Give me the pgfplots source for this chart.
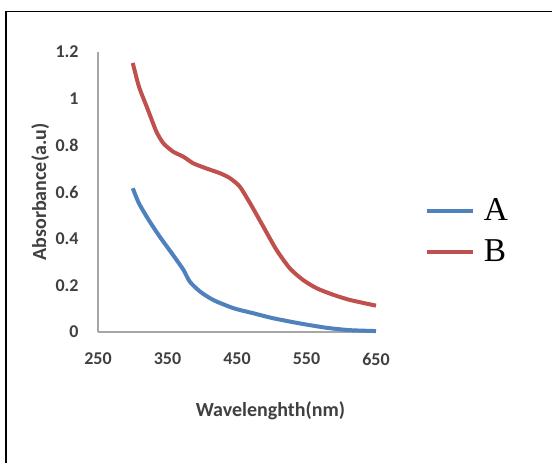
\documentclass[border=0pt]{standalone}
\usepackage{fontspec}
\setmainfont{Carlito}
\newfontfamily\legfont{Liberation Serif}
\usepackage{pgfplots}
\pgfplotsset{compat=1.18}
\definecolor{xlblue}{HTML}{4F81BD}
\definecolor{xlred}{HTML}{C0504D}
\definecolor{axgray}{HTML}{A6A6A6}
\definecolor{txtgray}{HTML}{404040}

\begin{document}
\begin{tikzpicture}
% page = 552 x 462 px at 0.75pt per px, axis origin at (98px,332px from top)
\useasboundingbox (-73.5pt,-97.5pt) rectangle (340.5pt,249pt);
\fill[white] (-73.5pt,-97.5pt) rectangle (340.5pt,249pt);
\draw[black, line width=1.1pt] (-69pt,-110pt) -- (-69pt,240.5pt) -- (350pt,240.5pt);
\begin{axis}[
    scale only axis,
    width=208.5pt, height=210pt,
    xmin=250, xmax=650, ymin=0, ymax=1.2,
    axis x line=bottom, axis y line=left,
    axis line style={-, axgray, line width=0.9pt},
    major tick length=0pt,
    xtick={250,350,450,550,650},
    xticklabels={250,350,450,550,650},
    ytick={0,0.2,0.4,0.6,0.8,1,1.2},
    yticklabels={0,0.2,0.4,0.6,0.8,1,1.2},
    tick label style={font=\bfseries\fontsize{13.5}{16}\selectfont, text=txtgray},
    yticklabel style={xshift=-11pt},
    xticklabel style={yshift=-12pt},
    label style={font=\bfseries\fontsize{15}{18}\selectfont, text=txtgray},
    xlabel={Wavelenghth(nm)},
    ylabel={Absorbance(a.u)},
    xlabel style={at={(axis description cs:0.62,0)}, yshift=-49pt},
    ylabel style={yshift=-2pt},
    legend style={draw=none, fill=none, at={(axis description cs:1.176,0.36)}, anchor=west,
        row sep=9pt, inner sep=0pt,
        nodes={inner xsep=7pt, inner ysep=2pt}},
    legend cell align=left,
    legend image code/.code={\draw[#1, line width=3pt] (0pt,0pt) -- (34pt,0pt);},
    every axis plot/.append style={line width=3pt, smooth, tension=0.4},
    clip=false,
]
\addplot[xlblue] coordinates {
    (300,0.616) (309,0.551) (323,0.480) (339,0.408) (358,0.330) (373,0.266)
    (382,0.216) (397,0.173) (416,0.137) (445,0.102) (474,0.080) (502,0.059)
    (540,0.037) (579,0.018) (612,0.008) (650,0.004)
};
\addlegendentry{\legfont\fontsize{25}{28}\selectfont A}
\addplot[xlred] coordinates {
    (300,1.153) (309,1.051) (322,0.951) (334,0.859) (344,0.809) (358,0.773)
    (373,0.751) (387,0.723) (406,0.701) (426,0.680) (440,0.659) (454,0.623)
    (469,0.551) (488,0.451) (507,0.351) (526,0.273) (545,0.223) (565,0.187)
    (589,0.159) (613,0.137) (650,0.113)
};
\addlegendentry{\legfont\fontsize{25}{28}\selectfont B}
\end{axis}
\end{tikzpicture}
\end{document}
